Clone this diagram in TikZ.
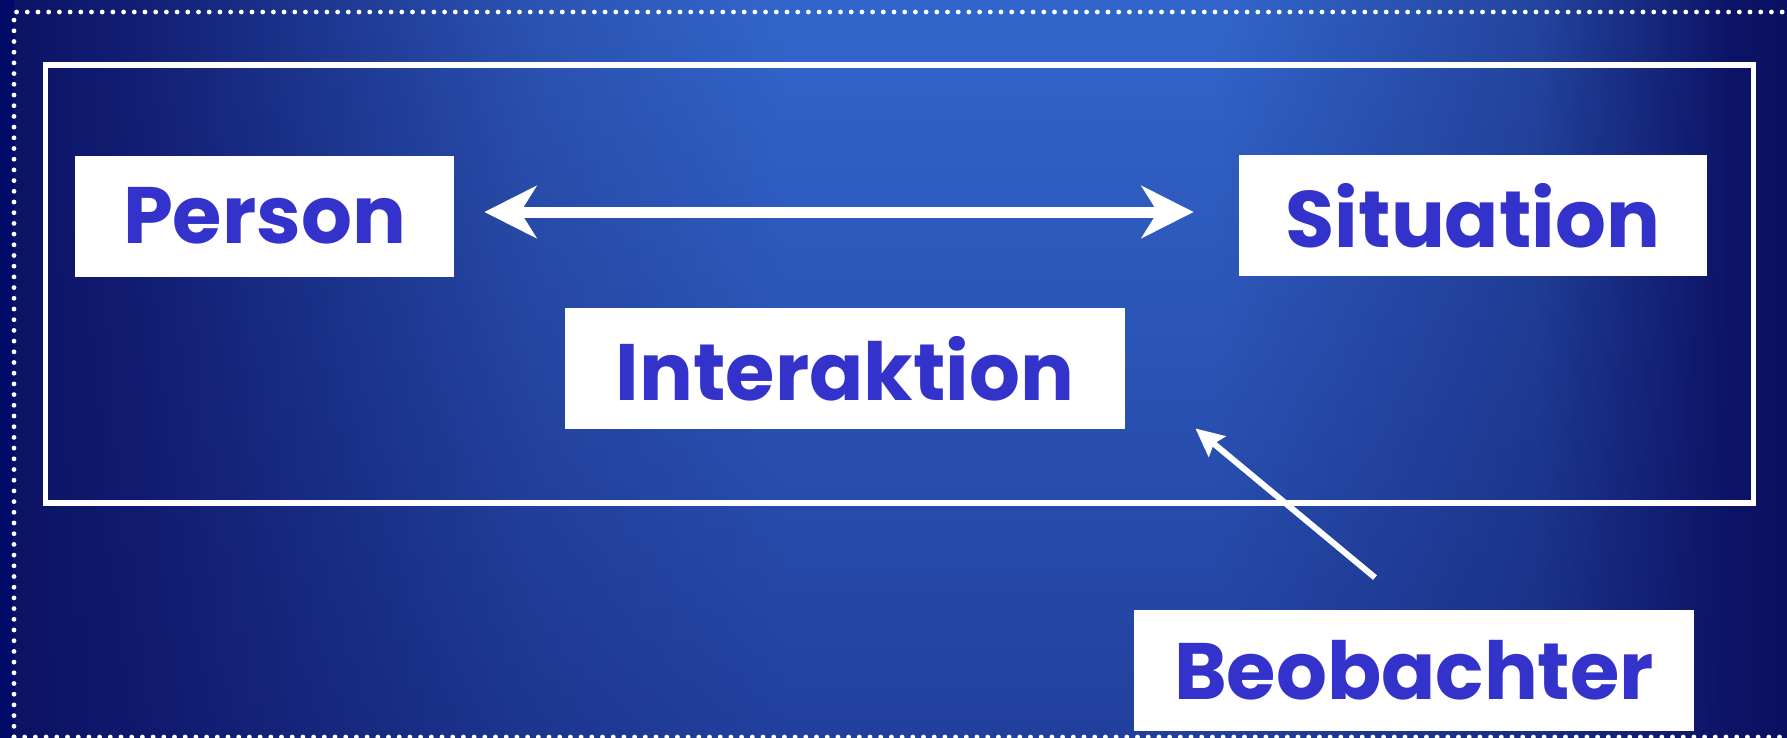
\documentclass[tikz,border=0pt]{standalone}
\usepackage{fontspec}
\setmainfont{Poppins}
\usetikzlibrary{arrows.meta,fadings,calc}
\definecolor{navy}{RGB}{12,18,100}
\definecolor{edgenavy}{RGB}{2,10,104}
\definecolor{lightb}{RGB}{51,103,204}
\definecolor{txt}{RGB}{51,51,204}
\pgfdeclarehorizontalshading{bgx}{100bp}{%
  rgb(0bp)=(0.047,0.071,0.392);
  rgb(25bp)=(0.047,0.071,0.392);
  rgb(29bp)=(0.075,0.125,0.46);
  rgb(40bp)=(0.17,0.33,0.70);
  rgb(47bp)=(0.2,0.4,0.8);
  rgb(59bp)=(0.2,0.4,0.8);
  rgb(68bp)=(0.14,0.27,0.62);
  rgb(73.5bp)=(0.05,0.075,0.40);
  rgb(75bp)=(0.04,0.06,0.38);
  rgb(100bp)=(0.04,0.06,0.38)}
\tikzfading[name=botfade, top color=transparent!100, middle color=transparent!92, bottom color=transparent!0]
\begin{document}
\begin{tikzpicture}[x=0.5pt,y=-0.5pt,
  box/.style={fill=white, minimum height=60.5pt, inner sep=0pt, text=txt,
    font=\fontsize{40}{48}\selectfont\bfseries},
  conn/.style={white, line width=5.5pt},
  obsarrow/.style={white, line width=3pt}]
\useasboundingbox (0,0) rectangle (1787,738);
% background
\shade[shading=bgx] (0,0) rectangle (1787,738);
\fill[navy, path fading=botfade, fill opacity=0.45] (0,0) rectangle (1787,738);
\fill[edgenavy] (0,0) rectangle (14,738);
% dotted border
\draw[white, line width=2.4pt, dash pattern=on 0pt off 5.35pt, line cap=round]
  (14,737) -- (14,12) -- (1792,12);
\draw[white, line width=2.4pt, dash pattern=on 0pt off 5.35pt, line cap=round]
  (14,737) -- (1792,737);
% frame
\draw[white, line width=2.8pt] (45.5,65) rectangle (1753.5,503);
% nodes
\node[box, minimum width=189.5pt] (person) at (264.5,216) {Person};
\node[box, minimum width=234pt] (situation) at (1473,215.5) {Situation};
\node[box, minimum width=280pt] (inter) at (845,368.5) {Interaktion};
\node[box, minimum width=280pt] (beob) at (1414,670.5) {Beobachter};
% connectors
\draw[conn, {Stealth[length=26pt, width=26pt, inset=8pt]}-{Stealth[length=26pt, width=26pt, inset=8pt]}]
  ([shift={(30,-4)}]person.east) -- ([shift={(-45,-3.5)}]situation.west);
\draw[obsarrow, -{Stealth[length=14pt, width=13pt, inset=2pt]}]
  ([shift={(-39,-32)}]beob.north) -- ([shift={(70,-1)}]inter.south east);
\end{tikzpicture}
\end{document}
